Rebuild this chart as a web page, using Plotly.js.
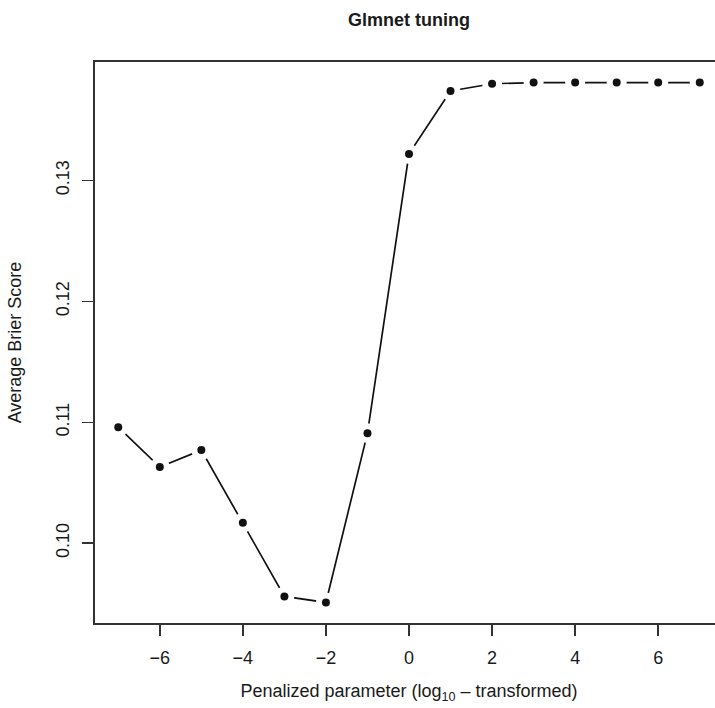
<!DOCTYPE html>
<html>
<head>
<meta charset="utf-8">
<script src="https://cdn.plot.ly/plotly-3.0.1.min.js"></script>
<style>
html,body{margin:0;padding:0;overflow:hidden;background:#fff;width:715px;height:708px;}
#chart{width:730px;height:708px;}
</style>
</head>
<body>
<div id="chart"></div>
<script>
const logLambda = [-7, -6, -5, -4, -3, -2, -1, 0, 1, 2, 3, 4, 5, 6, 7];
const brierScore = [0.1096, 0.1063, 0.1077, 0.1017, 0.0956, 0.0951, 0.1091, 0.1322, 0.1374, 0.1380, 0.1381, 0.1381, 0.1381, 0.1381, 0.1381];
const xTicks = [-6, -4, -2, 0, 2, 4, 6];
const yTicks = [0.10, 0.11, 0.12, 0.13];

const fam = '"Liberation Sans", Arial, sans-serif';
const txt = {family: fam, size: 18, color: '#1a1a1a'};

const traces = [
  {x: logLambda, y: brierScore, mode: 'lines', line: {color: '#111', width: 1.7}, hoverinfo: 'skip', showlegend: false},
  {x: logLambda, y: brierScore, mode: 'markers', marker: {symbol: 'circle', color: '#ffffff', size: 20, opacity: 1, line: {width: 0}}, hoverinfo: 'skip', showlegend: false},
  {x: logLambda, y: brierScore, mode: 'markers', marker: {symbol: 'circle', color: '#111', size: 8, line: {width: 0}}, showlegend: false}
];

const layout = {
  width: 730, height: 708,
  margin: {l: 95, r: 7, t: 62, b: 85},
  paper_bgcolor: '#fff', plot_bgcolor: '#fff',
  font: txt,
  title: {text: '<b>Glmnet tuning</b>', x: 409/730, xanchor: 'center', y: 1 - 20/708, yanchor: 'middle', font: {family: fam, size: 18, color: '#1a1a1a'}},
  xaxis: {
    range: [-7.56, 7.56], tickvals: xTicks, ticktext: xTicks.map(v => v < 0 ? '\u2212' + Math.abs(v) : String(v)),
    ticks: 'outside', ticklen: 11, tickwidth: 1.5, tickcolor: '#333', ticklabelstandoff: 6,
    showline: true, linecolor: '#333', linewidth: 2, mirror: true,
    showgrid: false, zeroline: false,
    tickfont: txt,
    title: {text: 'Penalized parameter (log<sub>10</sub> \u2013 transformed)', font: txt, standoff: 18}
  },
  yaxis: {
    range: [0.0934, 0.1398], tickvals: yTicks, ticktext: yTicks.map(v => v.toFixed(2)),
    tickangle: -90,
    ticks: 'outside', ticklen: 11, tickwidth: 1.5, tickcolor: '#333', ticklabelstandoff: 6,
    showline: true, linecolor: '#333', linewidth: 2, mirror: true,
    showgrid: false, zeroline: false,
    tickfont: txt,
    title: {text: 'Average Brier Score', font: txt, standoff: 26}
  }
};

Plotly.newPlot('chart', traces, layout, {displayModeBar: false, staticPlot: true});
</script>
</body>
</html>
